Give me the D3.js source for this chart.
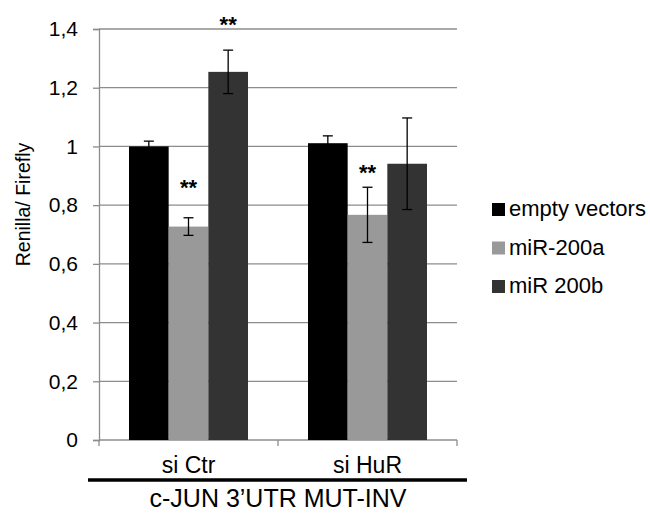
<!DOCTYPE html>
<html>
<head>
<meta charset="utf-8">
<script src="https://cdn.jsdelivr.net/npm/d3@7"></script>
<style>
  html, body { margin: 0; padding: 0; background: #fff; }
  svg { display: block; font-family: "Liberation Sans", Arial, sans-serif; }
</style>
</head>
<body>
<svg id="chart" width="650" height="513"></svg>
<script>
// ---- data ----
const categories = ["si Ctr", "si HuR"];
const seriesNames = ["empty vectors", "miR-200a", "miR 200b"];
const seriesColors = ["#000000", "#999999", "#333333"];
const emptyVectors = [1.00, 1.011];
const miR200a = [0.727, 0.767];
const miR200b = [1.254, 0.941];
const errEmpty = [0.018, 0.025];
const err200a = [0.030, 0.094];
const err200b = [0.074, 0.156];
const yTicks = [0, 0.2, 0.4, 0.6, 0.8, 1.0, 1.2, 1.4];
const yTickLabels = ["0", "0,2", "0,4", "0,6", "0,8", "1", "1,2", "1,4"];
// significance marks: [category index, series index, label level]
const sigCategory = [0, 0, 1];
const sigSeries = [2, 1, 1];
const sigLevel = [1.43, 0.876, 0.925];
const sigLabel = ["**", "**", "**"];
const yTitle = "Renilla/ Firefly";
const xTitle = "c-JUN 3\u2019UTR MUT-INV";

const values = [emptyVectors, miR200a, miR200b];
const errors = [errEmpty, err200a, err200b];

// ---- layout ----
const svg = d3.select("#chart");
const mLeft = 99, mRight = 457, mTop = 29, mBottom = 440;

const x0 = d3.scaleBand().domain(categories).range([mLeft, mRight]).paddingInner(0).paddingOuter(0);
const x1 = d3.scaleBand().domain(seriesNames).range([30, x0.bandwidth() - 30]).padding(0);
const y = d3.scaleLinear().domain([0, 1.4]).range([mBottom, mTop]);

// gridlines
svg.append("g").selectAll("line")
  .data(yTicks.filter(d => d > 0))
  .join("line")
  .attr("x1", mLeft).attr("x2", mRight)
  .attr("y1", d => y(d)).attr("y2", d => y(d))
  .attr("stroke", "#8c8c8c").attr("stroke-width", 1.3);

// y axis
const yAxis = d3.axisLeft(y).tickValues(yTicks)
  .tickFormat((d, i) => yTickLabels[i]).tickSize(6).tickPadding(15);
const gy = svg.append("g").attr("transform", `translate(${mLeft},0)`).call(yAxis);
gy.select(".domain").attr("stroke", "#8c8c8c").attr("stroke-width", 1.3);
gy.selectAll(".tick line").attr("stroke", "#8c8c8c").attr("stroke-width", 1.3);
gy.selectAll(".tick text").attr("font-size", 21).attr("fill", "#000")
  .attr("font-family", "Liberation Sans, Arial, sans-serif");

// x axis
const xEdges = [mLeft, ...categories.map(c => x0(c) + x0.bandwidth())];
svg.append("line").attr("x1", mLeft).attr("x2", mRight)
  .attr("y1", mBottom).attr("y2", mBottom)
  .attr("stroke", "#8c8c8c").attr("stroke-width", 1.3);
svg.append("g").selectAll("line").data(xEdges).join("line")
  .attr("x1", d => d).attr("x2", d => d)
  .attr("y1", mBottom).attr("y2", mBottom + 6)
  .attr("stroke", "#8c8c8c").attr("stroke-width", 1.3);

// bars
const groups = svg.append("g").selectAll("g")
  .data(categories).join("g")
  .attr("transform", c => `translate(${x0(c)},0)`);

groups.each(function(c, ci) {
  const g = d3.select(this);
  seriesNames.forEach((s, si) => {
    const v = values[si][ci];
    g.append("rect")
      .attr("x", x1(s)).attr("width", x1.bandwidth())
      .attr("y", y(v)).attr("height", y(0) - y(v))
      .attr("fill", seriesColors[si]);
  });
  seriesNames.forEach((s, si) => {
    const v = values[si][ci], e = errors[si][ci];
    const cx = x1(s) + x1.bandwidth() / 2;
    const yHi = y(v + e), yLo = y(v - e);
    g.append("line").attr("x1", cx).attr("x2", cx).attr("y1", yHi).attr("y2", yLo)
      .attr("stroke", "#000").attr("stroke-width", 1.3);
    [yHi, yLo].forEach(yy => {
      g.append("line").attr("x1", cx - 5).attr("x2", cx + 5).attr("y1", yy).attr("y2", yy)
        .attr("stroke", "#000").attr("stroke-width", 1.3);
    });
  });
});

// significance
svg.append("g").selectAll("text")
  .data(sigLabel).join("text")
  .attr("x", (d, i) => x0(categories[sigCategory[i]]) + x1(seriesNames[sigSeries[i]]) + x1.bandwidth() / 2)
  .attr("y", (d, i) => y(sigLevel[i]) + 12)
  .attr("text-anchor", "middle")
  .attr("font-size", 22).attr("font-weight", "bold")
  .text(d => d);

// category labels
svg.append("g").selectAll("text").data(categories).join("text")
  .attr("x", c => x0(c) + x0.bandwidth() / 2)
  .attr("y", 473)
  .attr("text-anchor", "middle")
  .attr("font-size", 23)
  .text(c => c);

// thick line
svg.append("line").attr("x1", 88).attr("x2", 467).attr("y1", 480).attr("y2", 480)
  .attr("stroke", "#000").attr("stroke-width", 3.5);

// x title
svg.append("text").attr("x", (mLeft + mRight) / 2).attr("y", 507)
  .attr("text-anchor", "middle").attr("font-size", 25).text(xTitle);

// y title
svg.append("text")
  .attr("transform", `translate(30,${(mTop + mBottom) / 2 - 30}) rotate(-90)`)
  .attr("text-anchor", "middle").attr("font-size", 19.5).text(yTitle);

// legend
const legend = svg.append("g").selectAll("g").data(seriesNames).join("g")
  .attr("transform", (d, i) => `translate(492,${216 + i * 38.5})`);
legend.append("rect").attr("x", 0).attr("y", -13).attr("width", 13).attr("height", 13)
  .attr("fill", (d, i) => seriesColors[i]);
legend.append("text").attr("x", 17).attr("y", 0).attr("font-size", 22).text(d => d);
</script>
</body>
</html>
